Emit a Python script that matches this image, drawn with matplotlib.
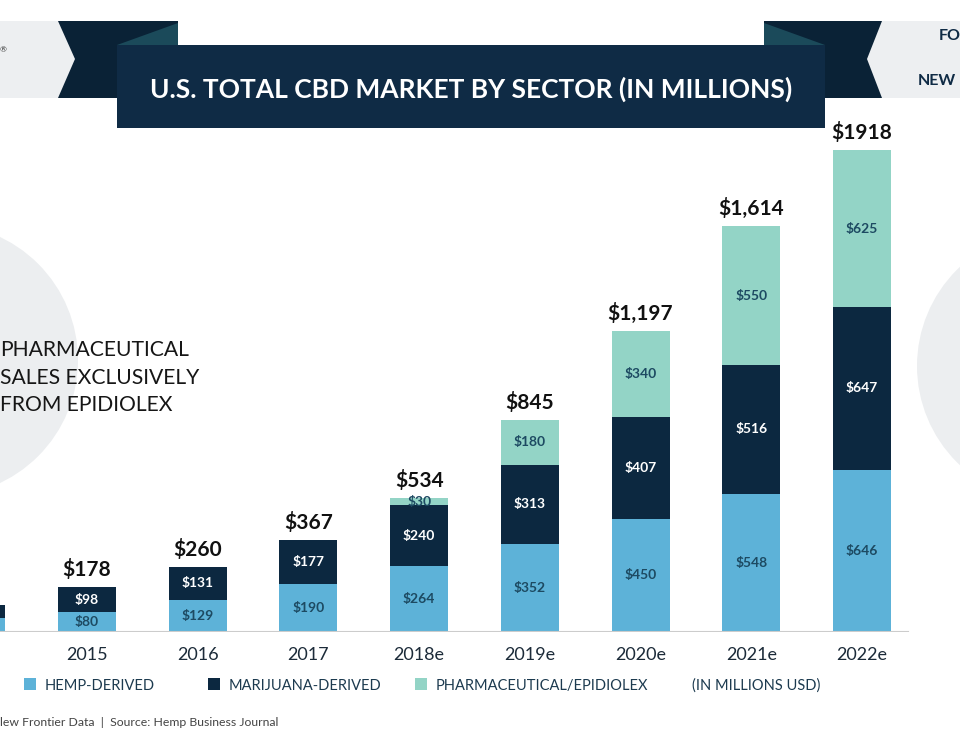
import matplotlib
matplotlib.use("Agg")
import matplotlib.pyplot as plt
from matplotlib.patches import Rectangle, Polygon, Circle

plt.rcParams['font.family'] = ['Lato', 'DejaVu Sans']

# data (US$ millions)
years = ['2014', '2015', '2016', '2017', '2018e', '2019e', '2020e', '2021e', '2022e']
hemp = [56, 80, 129, 190, 264, 352, 450, 548, 646]
marijuana = [52, 98, 131, 177, 240, 313, 407, 516, 647]
pharma = [0, 0, 0, 0, 30, 180, 340, 550, 625]
totals = ['$108', '$178', '$260', '$367', '$534', '$845', '$1,197', '$1,614', '$1918']
legend_labels = ['HEMP-DERIVED', 'MARIJUANA-DERIVED', 'PHARMACEUTICAL/EPIDIOLEX']

c_hemp = '#5db2d8'
c_mj = '#0c2840'
c_pharma = '#93d4c6'
navy = '#0f2b45'
ribbon = '#0a2236'
fold = '#1b4a5a'
pale = '#edeff1'
label_dark = '#1d4a62'

fig = plt.figure(figsize=(9.6, 7.5), dpi=100)
fig.patch.set_facecolor('white')

# background layer in pixel coords
bg = fig.add_axes([0, 0, 1, 1], zorder=0)
bg.set_xlim(0, 960)
bg.set_ylim(750, 0)
bg.axis('off')

# grey circles
bg.add_patch(Circle((-58, 360), 136, color='#eceef0', lw=0))
bg.add_patch(Circle((1053, 366), 136, color='#eceef0', lw=0))

# header boxes + ribbons
bg.add_patch(Rectangle((0, 21), 80, 77, color=pale, lw=0))
bg.add_patch(Rectangle((862, 21), 98, 77, color=pale, lw=0))
bg.add_patch(Polygon([(58, 21), (178, 21), (178, 98), (58, 98), (75, 59)], color=ribbon, lw=0))
bg.add_patch(Polygon([(764, 21), (882, 21), (867, 59), (882, 98), (764, 98)], color=ribbon, lw=0))
bg.add_patch(Polygon([(117, 45), (178, 23), (178, 45)], color=fold, lw=0))
bg.add_patch(Polygon([(764, 23), (825, 45), (764, 45)], color=fold, lw=0))
bg.add_patch(Rectangle((117, 45), 708, 83, color=navy, lw=0))
bg.text(471, 89, 'U.S. TOTAL CBD MARKET BY SECTOR (IN MILLIONS)', color='white',
        fontsize=19, fontweight='bold', ha='center', va='center')
bg.text(0, 50, '®', color='#333333', fontsize=6, ha='left', va='center')
bg.text(939, 36, 'FO', color=navy, fontsize=11.5, fontweight='bold', ha='left', va='center')
bg.text(918, 81, 'NEW', color=navy, fontsize=11.5, fontweight='bold', ha='left', va='center')

# side note
for k, line in enumerate(['PHARMACEUTICAL', 'SALES EXCLUSIVELY', 'FROM EPIDIOLEX']):
    bg.text(0, 350 + 27.5 * k, line, color='#161616', fontsize=15.2, ha='left', va='center')

# legend
for x0, col, lab in zip([24, 208, 415], [c_hemp, c_mj, c_pharma], legend_labels):
    bg.add_patch(Rectangle((x0, 678), 12, 12, color=col, lw=0))
    bg.text(x0 + 21, 686, lab, color='#1c3a4f', fontsize=10.5, ha='left', va='center')
bg.text(692, 686, '(IN MILLIONS USD)', color='#1c3a4f', fontsize=10.5, ha='left', va='center')

bg.text(0, 723, 'lew Frontier Data  |  Source: Hemp Business Journal', color='#444444',
        fontsize=8.8, ha='left', va='center')

# bar chart
ax = fig.add_axes([0, 118 / 750, 1, 502.6 / 750], zorder=1)
ax.patch.set_alpha(0)
x = list(range(len(years)))
w = 0.524
mp_bottom = [h + m for h, m in zip(hemp, marijuana)]
ax.bar(x, hemp, w, color=c_hemp, zorder=2)
ax.bar(x, marijuana, w, bottom=hemp, color=c_mj, zorder=2)
ax.bar(x, pharma, w, bottom=mp_bottom, color=c_pharma, zorder=2)
ax.set_xlim(0.214, 8.886)
ax.set_ylim(0, 2000)
ax.axhline(0, xmax=908 / 960, color='#cccccc', lw=1.5, zorder=3)

for s in ax.spines.values():
    s.set_visible(False)
ax.set_yticks([])
ax.set_xticks(x[1:])
ax.set_xticklabels(years[1:], fontsize=13, color='#1c2b39')
ax.tick_params(axis='x', length=0, pad=11)

# labels (2014 sits off the left edge, so it is skipped)
for i in x[1:]:
    ax.text(i, hemp[i] / 2, f'${hemp[i]}', ha='center', va='center',
            color=label_dark, fontsize=10, fontweight='bold', zorder=4)
    ax.text(i, hemp[i] + marijuana[i] / 2, f'${marijuana[i]}', ha='center', va='center',
            color='white', fontsize=10, fontweight='bold', zorder=4)
    if pharma[i]:
        ax.text(i, mp_bottom[i] + pharma[i] / 2, f'${pharma[i]}', ha='center', va='center',
                color=label_dark, fontsize=10, fontweight='bold', zorder=4)
    ax.annotate(totals[i], (i, mp_bottom[i] + pharma[i]), xytext=(0, 5),
                textcoords='offset points', ha='center', va='bottom',
                fontsize=15, fontweight='bold', color='#111111')

fig.savefig('out.png', dpi=100)
